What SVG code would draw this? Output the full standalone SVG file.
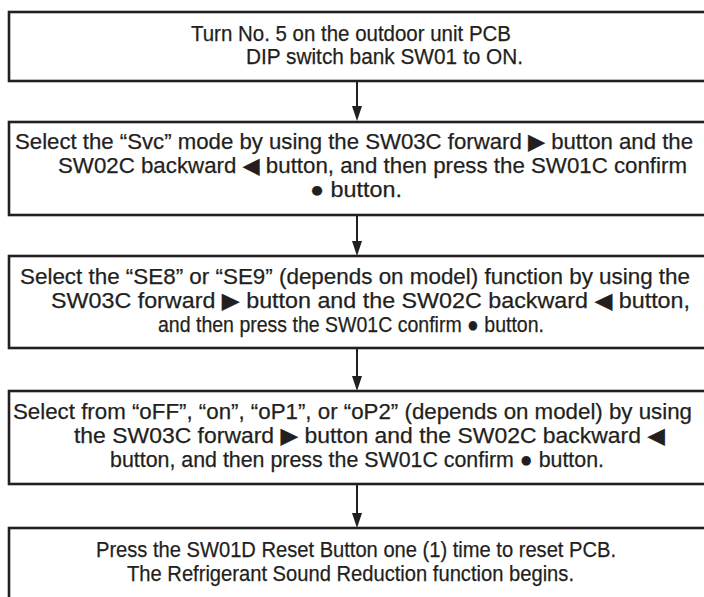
<svg xmlns="http://www.w3.org/2000/svg" width="704" height="597" viewBox="0 0 704 597">
<defs>
<style>
.box{fill:#fff;stroke:#231f20;stroke-width:2.6}
.t{font-family:"Liberation Sans","Arimo","DejaVu Sans",sans-serif;font-size:22px;fill:#231f20;stroke:#231f20;stroke-width:0.25}
.ln{stroke:#231f20;stroke-width:2;fill:none}
.ah{fill:#231f20}
</style>
</defs>
<rect width="704" height="597" fill="#fff"/>
<g id="connectors">
<line class="ln" x1="357" y1="81" x2="357" y2="107"/><path class="ah" d="M352,106 L362,106 L357,121 Z"/>
<line class="ln" x1="357" y1="215" x2="357" y2="242"/><path class="ah" d="M352,241 L362,241 L357,256 Z"/>
<line class="ln" x1="357" y1="348" x2="357" y2="377"/><path class="ah" d="M352,376 L362,376 L357,391 Z"/>
<line class="ln" x1="357" y1="484" x2="357" y2="514"/><path class="ah" d="M352,513 L362,513 L357,528 Z"/>
</g>
<g id="step1">
<rect class="box" x="9" y="12" width="710" height="69"/>
<text class="t" x="191" y="41" textLength="320" lengthAdjust="spacingAndGlyphs">Turn No. 5 on the outdoor unit PCB</text>
<text class="t" x="246" y="64" textLength="277" lengthAdjust="spacingAndGlyphs">DIP switch bank SW01 to ON.</text>
</g>
<g id="step2">
<rect class="box" x="9" y="122" width="710" height="93"/>
<text class="t" x="15" y="149" textLength="678" lengthAdjust="spacingAndGlyphs">Select the “Svc” mode by using the SW03C forward ▶ button and the</text>
<text class="t" x="58" y="173" textLength="629" lengthAdjust="spacingAndGlyphs">SW02C backward ◀ button, and then press the SW01C confirm</text>
<text class="t" x="310" y="197" textLength="92" lengthAdjust="spacingAndGlyphs">● button.</text>
</g>
<g id="step3">
<rect class="box" x="9" y="256" width="710" height="92"/>
<text class="t" x="20" y="284" textLength="670" lengthAdjust="spacingAndGlyphs">Select the “SE8” or “SE9” (depends on model) function by using the</text>
<text class="t" x="51" y="308" textLength="639" lengthAdjust="spacingAndGlyphs">SW03C forward ▶ button and the SW02C backward ◀ button,</text>
<text class="t" x="158" y="332" textLength="386" lengthAdjust="spacingAndGlyphs">and then press the SW01C confirm ● button.</text>
</g>
<g id="step4">
<rect class="box" x="9" y="391" width="710" height="93"/>
<text class="t" x="13" y="419" textLength="679" lengthAdjust="spacingAndGlyphs">Select from “oFF”, “on”, “oP1”, or “oP2” (depends on model) by using</text>
<text class="t" x="74" y="443" textLength="591" lengthAdjust="spacingAndGlyphs">the SW03C forward ▶ button and the SW02C backward ◀</text>
<text class="t" x="110" y="467" textLength="494" lengthAdjust="spacingAndGlyphs">button, and then press the SW01C confirm ● button.</text>
</g>
<g id="step5">
<rect class="box" x="9" y="528" width="710" height="90"/>
<text class="t" x="96" y="557" textLength="520" lengthAdjust="spacingAndGlyphs">Press the SW01D Reset Button one (1) time to reset PCB.</text>
<text class="t" x="127" y="581" textLength="447" lengthAdjust="spacingAndGlyphs">The Refrigerant Sound Reduction function begins.</text>
</g>
</svg>
